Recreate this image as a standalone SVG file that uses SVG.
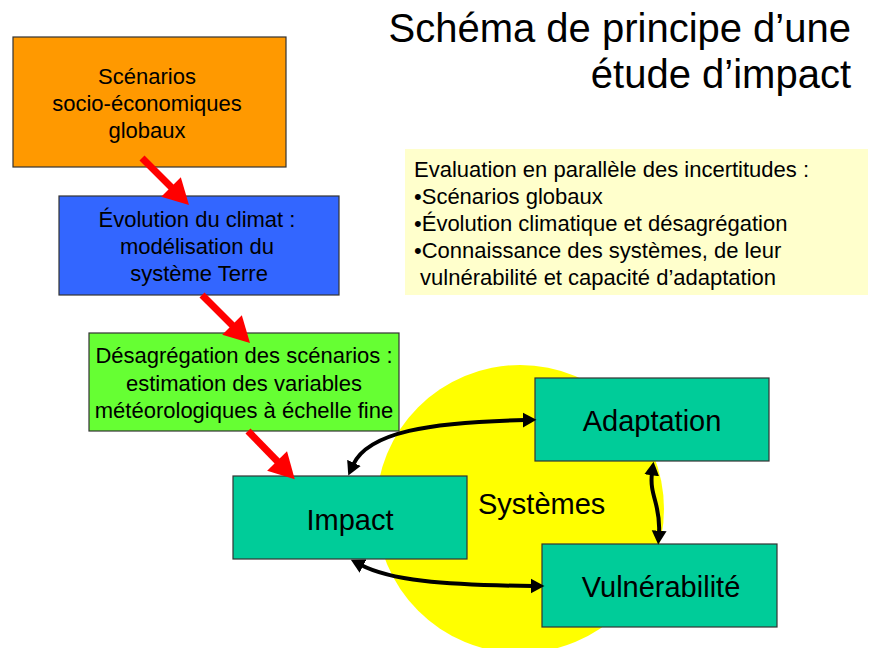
<svg xmlns="http://www.w3.org/2000/svg" width="870" height="648" viewBox="0 0 870 648">
<style>
text{font-family:"Liberation Sans",Arial,Helvetica,sans-serif;fill:#000}
.box{stroke:#333;stroke-width:1.2}
.t22{font-size:22px;text-anchor:middle}
.t29{font-size:29px;text-anchor:middle}
.red{stroke:#FF0000;stroke-width:7;fill:none;marker-end:url(#redHead)}
.blk{stroke:#000;stroke-width:4;fill:none;marker-start:url(#blkHead);marker-end:url(#blkHead)}
</style>
<defs>
<marker id="redHead" markerUnits="userSpaceOnUse" markerWidth="30" markerHeight="30" viewBox="0 -13 24 26" refX="4" refY="0" orient="auto">
<path d="M0,-12 L22,0 L0,12 z" fill="#FF0000"/>
</marker>
<marker id="blkHead" markerUnits="userSpaceOnUse" markerWidth="16" markerHeight="16" viewBox="0 -7 14 14" refX="2" refY="0" orient="auto-start-reverse">
<path d="M0,-6.5 L12,0 L0,6.5 z" fill="#000"/>
</marker>
</defs>
<rect width="870" height="648" fill="#fff"/>

<g id="title">
<text x="851" y="42" font-size="40" text-anchor="end">Schéma de principe d’une</text>
<text x="851" y="88" font-size="40" text-anchor="end">étude d’impact</text>
</g>

<g id="systemes">
<circle cx="520" cy="509" r="144" fill="#FFFF00"/>
<text x="478" y="514" font-size="29">Systèmes</text>
</g>

<g id="scenarios">
<rect class="box" x="13" y="37" width="273" height="130" fill="#FF9900"/>
<text class="t22" x="147" y="84">Scénarios</text>
<text class="t22" x="147" y="111">socio-économiques</text>
<text class="t22" x="147" y="138">globaux</text>
</g>

<g id="evolution">
<rect class="box" x="59" y="196" width="280" height="99" fill="#3366FF"/>
<text class="t22" x="197" y="227">Évolution du climat :</text>
<text class="t22" x="197" y="254">modélisation du</text>
<text class="t22" x="199" y="281">système Terre</text>
</g>

<g id="desagregation">
<rect class="box" x="89" y="333" width="310" height="98" fill="#66FF33"/>
<text class="t22" x="244" y="363">Désagrégation des scénarios :</text>
<text class="t22" x="244" y="391">estimation des variables</text>
<text class="t22" x="244" y="418">météorologiques à échelle fine</text>
</g>

<g id="incertitudes">
<rect x="405" y="149" width="463" height="146" fill="#FFFFCC"/>
<text x="414" y="177" font-size="22">Evaluation en parallèle des incertitudes :</text>
<text x="414" y="204" font-size="22">•Scénarios globaux</text>
<text x="414" y="231" font-size="22">•Évolution climatique et désagrégation</text>
<text x="414" y="258" font-size="22">•Connaissance des systèmes, de leur</text>
<text x="414" y="285" font-size="22" xml:space="preserve"> vulnérabilité et capacité d’adaptation</text>
</g>

<g id="impact">
<rect class="box" x="233" y="476" width="234" height="83" fill="#00CC99"/>
<text class="t29" x="350" y="530">Impact</text>
</g>

<g id="adaptation">
<rect class="box" x="535" y="378" width="234" height="83" fill="#00CC99"/>
<text class="t29" x="652" y="431">Adaptation</text>
</g>

<g id="vulnerabilite">
<rect class="box" x="542" y="544" width="235" height="83" fill="#00CC99"/>
<text class="t29" x="661" y="597">Vulnérabilité</text>
</g>

<g id="connectors">
<path class="red" d="M142,158 L174.3,190.3"/>
<path class="red" d="M202,295 L235.3,328.3"/>
<path class="red" d="M248,431 L280.3,464.3"/>
<path class="blk" d="M353,465 C368,432 430,422 525,420"/>
<path class="blk" d="M361,565 C390,580 440,585 533,586"/>
<path class="blk" d="M652,473 C649,495 661,505 659,533"/>
</g>
</svg>
